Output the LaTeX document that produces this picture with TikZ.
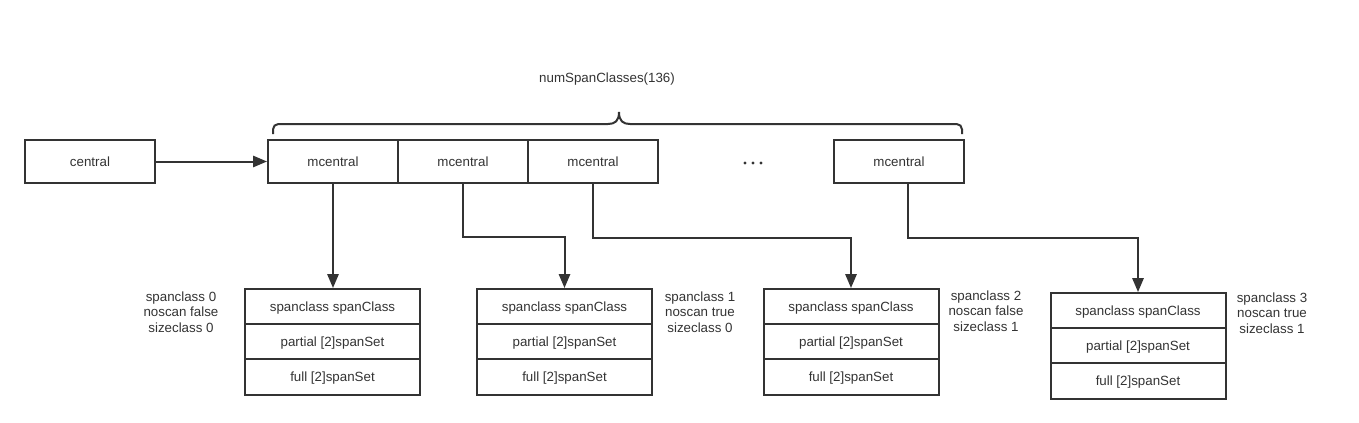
\documentclass[tikz,border=0pt]{standalone}
\usepackage{fontspec}
\setmainfont{Liberation Sans}
\usetikzlibrary{arrows.meta,calc}
\definecolor{ink}{HTML}{333333}
\begin{document}
\begin{tikzpicture}[x=0.75pt,y=-0.75pt,
  every node/.style={font=\fontsize{10}{11.6}\selectfont,text=ink},
  cbox/.style={draw=ink,line width=1.5pt,minimum width=97.5pt,minimum height=32.25pt,inner sep=0pt,text height=7.2pt,text depth=0.4pt},
  rowbox/.style={draw=ink,line width=1.5pt,minimum width=131.25pt,minimum height=26.4pt,inner sep=0pt,text height=7.2pt,text depth=0.4pt},
  conn/.style={draw=ink,line width=1.5pt,-{Triangle[length=10.5pt,width=8.5pt]}},
  sidelab/.style={align=center,inner sep=0pt}]
\useasboundingbox (0,0) rectangle (1359,422);
% top row
\node[cbox] (central) at (90,161.5) {central};
\node[cbox] (m1) at (333,161.5) {mcentral};
\node[cbox] (m2) at (463,161.5) {mcentral};
\node[cbox] (m3) at (593,161.5) {mcentral};
\node[cbox] (m4) at (899,161.5) {mcentral};
\coordinate (dots) at (753,163);
\foreach \d in {-8,0,8}{\fill[ink] ($(dots)+(\d,0)$) circle[radius=1.6];}
% brace
\draw[ink,line width=1.5pt,rounded corners=4pt] (273,134) -- (273,124) -- (608,124);
\draw[ink,line width=1.5pt] (608,124) .. controls (615,124) and (619,121) .. (619,112);
\draw[ink,line width=1.5pt] (619,112) .. controls (619,121) and (623,124) .. (630,124);
\draw[ink,line width=1.5pt,rounded corners=4pt] (630,124) -- (962,124) -- (962,134);
\node (title) at (607,79) {numSpanClasses(136)};
% span boxes
\foreach \n/\x/\y in {1/332.5/0,2/564.5/0,3/851/0,4/1138/4}{
  \node[rowbox] (b\n a) at (\x,306.6+\y) {spanclass spanClass};
  \node[rowbox] (b\n b) at (\x,341.8+\y) {partial [2]spanSet};
  \node[rowbox] (b\n c) at (\x,377+\y) {full [2]spanSet};
}
% side labels
\node[sidelab] (l1) at (181,312) {spanclass 0\\noscan false\\sizeclass 0};
\node[sidelab] (l2) at (700,312) {spanclass 1\\noscan true\\sizeclass 0};
\node[sidelab] (l3) at (986,311) {spanclass 2\\noscan false\\sizeclass 1};
\node[sidelab] (l4) at (1272,313) {spanclass 3\\noscan true\\sizeclass 1};
% connectors
\draw[conn] (central.east) -- (m1.west);
\draw[conn] (m1.south) -- (m1.south |- b1a.north);
\draw[conn] (m2.south) -- ++(0,53) -| (b2a.north);
\draw[conn] (m3.south) -- ++(0,54) -| (b3a.north);
\draw[conn] ([xshift=6.75pt]m4.south) -- ++(0,54) -| (b4a.north);
\end{tikzpicture}
\end{document}
